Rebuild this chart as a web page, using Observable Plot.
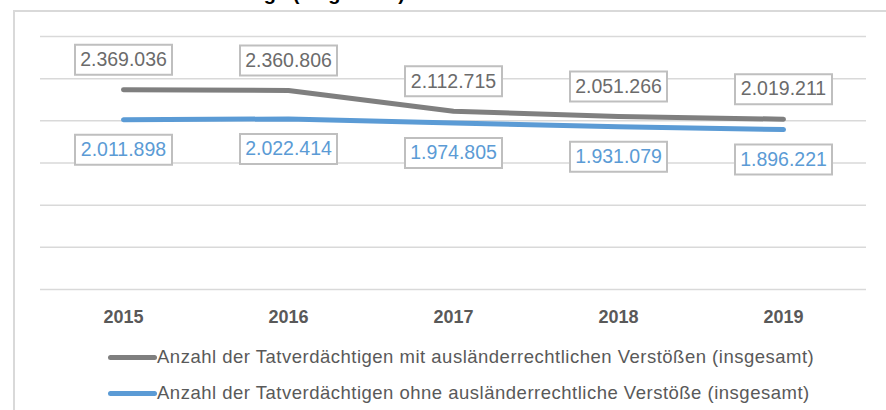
<!DOCTYPE html>
<html>
<head>
<meta charset="utf-8">
<script src="https://cdn.jsdelivr.net/npm/d3@7"></script>
<script src="https://cdn.jsdelivr.net/npm/@observablehq/plot@0.6"></script>
<style>
  html, body { margin: 0; padding: 0; background: #fff; overflow: hidden; }
  #wrap { position: relative; width: 886px; height: 410px; overflow: hidden; font-family: "Liberation Sans", Arial, sans-serif; }
  #frame { position: absolute; left: 13px; top: 10px; width: 1000px; height: 600px; border-left: 2px solid #d9d9d9; border-top: 2px solid #d9d9d9; box-sizing: border-box; }
  #title { position: absolute; top: -17px; right: 481px; font-size: 20px; line-height: 20px; font-weight: bold; color: #000; white-space: nowrap; }
  #chart { position: absolute; left: 0; top: 0; }
  .leg { position: absolute; left: 108px; height: 20px; white-space: nowrap; }
  .leg .sw { position: absolute; left: 0; top: 8px; width: 49px; height: 5px; border-radius: 2.5px; }
  .leg .tx { position: absolute; left: 49px; top: 0; font-size: 18.5px; letter-spacing: 0.5px; line-height: 20px; color: #595959; }
</style>
</head>
<body>
<div id="wrap">
  <div id="frame"></div>
  <div id="title">Tatverdächtige (insgesamt)</div>
  <div id="chart"></div>
  <div id="legend"></div>
</div>
<script>
const years = ["2015", "2016", "2017", "2018", "2019"];
const mitValues = [2369036, 2360806, 2112715, 2051266, 2019211];
const ohneValues = [2011898, 2022414, 1974805, 1931079, 1896221];
const seriesNames = [
  "Anzahl der Tatverdächtigen mit ausländerrechtlichen Verstößen (insgesamt)",
  "Anzahl der Tatverdächtigen ohne ausländerrechtliche Verstöße (insgesamt)"
];
const seriesColors = ["#7f7f7f", "#5b9bd5"];
const labelColors = ["#6b6b6b", "#5b9bd5"];
const yTicks = [0, 500000, 1000000, 1500000, 2000000, 2500000, 3000000];

const mitRows = years.map((year, i) => ({year, value: mitValues[i]}));
const ohneRows = years.map((year, i) => ({year, value: ohneValues[i]}));

const fmt = d3.formatLocale({decimal: ",", thousands: ".", grouping: [3], currency: ["", " €"]}).format(",d");

const boxSymbol = {
  draw(context) {
    context.rect(-48.5, -15, 97, 30);
  }
};

const chart = Plot.plot({
  width: 886,
  height: 340,
  marginLeft: 40,
  marginRight: 20,
  marginTop: 36,
  marginBottom: 51,
  style: {fontFamily: "'Liberation Sans', Arial, sans-serif", background: "transparent", color: "#595959"},
  x: {type: "point", domain: years, padding: 0.5, label: null},
  y: {domain: [0, 3000000], axis: null},
  marks: [
    Plot.gridY(yTicks, {stroke: "#d9d9d9", strokeOpacity: 1, strokeWidth: 1.5}),
    Plot.line(mitRows, {x: "year", y: "value", stroke: seriesColors[0], strokeWidth: 5, curve: "linear", strokeLinecap: "round", strokeLinejoin: "round"}),
    Plot.line(ohneRows, {x: "year", y: "value", stroke: seriesColors[1], strokeWidth: 5, curve: "linear", strokeLinecap: "round", strokeLinejoin: "round"}),
    Plot.dot(mitRows, {x: "year", y: "value", symbol: boxSymbol, r: 10, fill: "white", stroke: "#bfbfbf", strokeWidth: 2, dy: -30}),
    Plot.text(mitRows, {x: "year", y: "value", text: d => fmt(d.value), dy: -30, fill: labelColors[0], fontSize: 19.5}),
    Plot.dot(ohneRows, {x: "year", y: "value", symbol: boxSymbol, r: 10, fill: "white", stroke: "#bfbfbf", strokeWidth: 2, dy: 30}),
    Plot.text(ohneRows, {x: "year", y: "value", text: d => fmt(d.value), dy: 30, fill: labelColors[1], fontSize: 19.5}),
    Plot.axisX({tickSize: 0, tickPadding: 21, fontSize: 18, fontWeight: "bold", label: null})
  ]
});
document.getElementById("chart").appendChild(chart);

const legend = document.getElementById("legend");
const legendTops = [346.5, 382.5];
seriesNames.forEach((name, i) => {
  const row = document.createElement("div");
  row.className = "leg";
  row.style.top = legendTops[i] + "px";
  const sw = document.createElement("div");
  sw.className = "sw";
  sw.style.background = seriesColors[i];
  const tx = document.createElement("span");
  tx.className = "tx";
  tx.textContent = name;
  row.appendChild(sw);
  row.appendChild(tx);
  legend.appendChild(row);
});
</script>
</body>
</html>
